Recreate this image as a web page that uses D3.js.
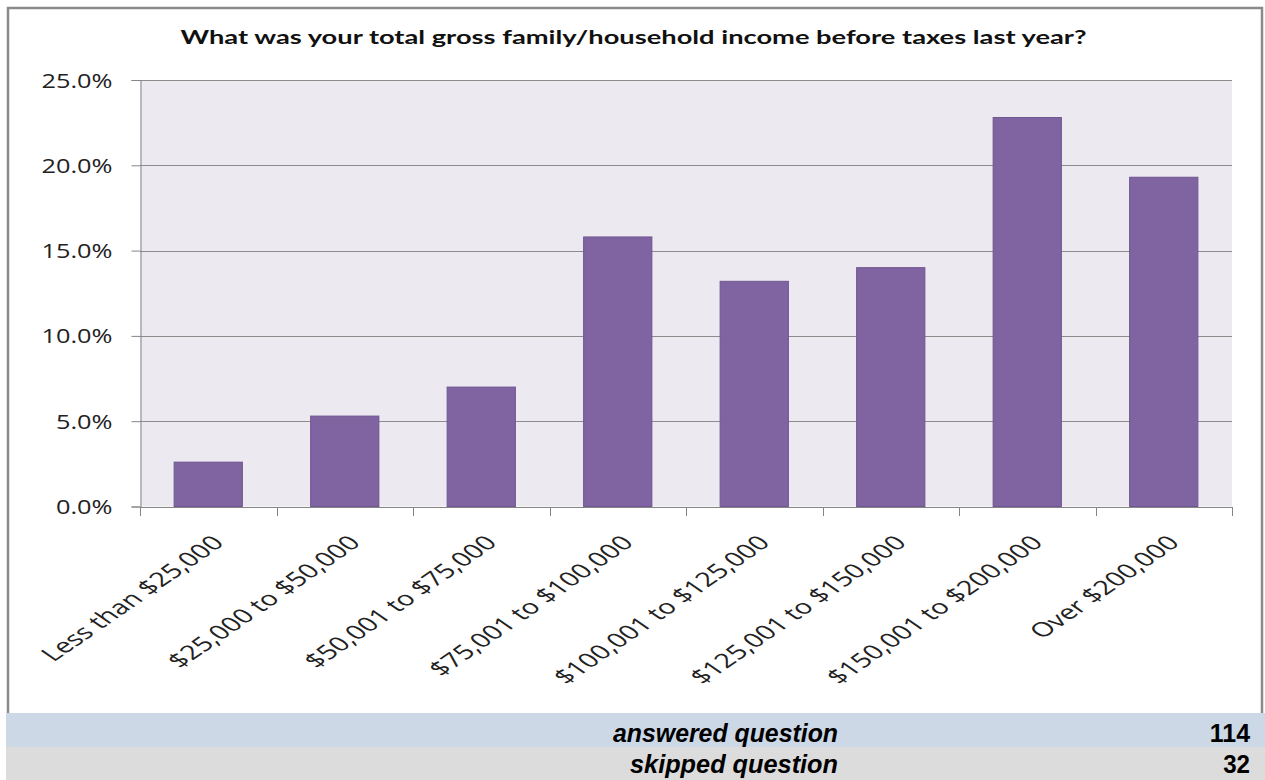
<!DOCTYPE html>
<html>
<head>
<meta charset="utf-8">
<script src="https://cdn.jsdelivr.net/npm/d3@7"></script>
<style>
  html, body { margin: 0; padding: 0; background: #ffffff; }
  svg { display: block; }
</style>
</head>
<body>
<svg id="chart" width="1265" height="780"></svg>
<script>
// Survey results: household income brackets, share of respondents (%)
const categories = [
  "Less than $25,000",
  "$25,000 to $50,000",
  "$50,001 to $75,000",
  "$75,001 to $100,000",
  "$100,001 to $125,000",
  "$125,001 to $150,000",
  "$150,001 to $200,000",
  "Over $200,000"
];
const percentages = [2.6, 5.3, 7.0, 15.8, 13.2, 14.0, 22.8, 19.3];
const yTicks = [0, 5, 10, 15, 20, 25];
const titleText = "What was your total gross family/household income before taxes last year?";
const summaryLabels = ["answered question", "skipped question"];
const summaryCounts = [114, 32];

const W = 1265, H = 780;
const plot = { left: 140, right: 1232, top: 80, bottom: 506.5 };
const SX_Y = 1.3;    // horizontal stretch of value labels
const SX_CAT = 1.45; // horizontal stretch of slanted category labels
const chartFont = "'Open Sans', 'Noto Sans', sans-serif";

const svg = d3.select("#chart");

// chart frame
svg.append("rect")
  .attr("x", 8).attr("y", 8)
  .attr("width", 1254).attr("height", 730)
  .attr("fill", "#ffffff")
  .attr("stroke", "#8a8a8a")
  .attr("stroke-width", 2.5);

const x = d3.scaleBand()
  .domain(categories)
  .range([plot.left, plot.right])
  .paddingInner(0.5)
  .paddingOuter(0.25);

const y = d3.scaleLinear()
  .domain([0, 25])
  .range([plot.bottom, plot.top]);

// plot background
svg.append("rect")
  .attr("x", plot.left).attr("y", plot.top)
  .attr("width", plot.right - plot.left)
  .attr("height", plot.bottom - plot.top)
  .attr("fill", "#ECEAF0");

// horizontal gridlines
svg.append("g")
  .selectAll("line")
  .data(yTicks.filter(d => d > 0))
  .join("line")
  .attr("x1", plot.left).attr("x2", plot.right)
  .attr("y1", d => Math.round(y(d)) + 0.5)
  .attr("y2", d => Math.round(y(d)) + 0.5)
  .attr("stroke", "#8c8c8c")
  .attr("stroke-width", 1);

// bars
svg.append("g")
  .selectAll("rect")
  .data(percentages)
  .join("rect")
  .attr("x", (d, i) => x(categories[i]))
  .attr("y", d => y(d))
  .attr("width", x.bandwidth())
  .attr("height", d => y(0) - y(d))
  .attr("fill", "#8064A2")
  .attr("stroke", "#6F5690")
  .attr("stroke-width", 1);

// y axis
const yAxis = d3.axisLeft(y)
  .tickValues(yTicks)
  .tickSize(9)
  .tickFormat(d => d3.format(".1f")(d) + "%");
const gy = svg.append("g")
  .attr("transform", `translate(${plot.left + 0.5},0)`)
  .call(yAxis);
gy.select(".domain").attr("stroke", "#868686");
gy.selectAll(".tick line").attr("stroke", "#868686");
gy.selectAll(".tick text")
  .attr("x", null).attr("dy", null)
  .attr("text-anchor", "end")
  .attr("font-family", chartFont)
  .attr("font-size", 19.5)
  .attr("fill", "#222")
  .attr("transform", `translate(-28,7) scale(${SX_Y},1)`);

// x axis: ticks on category boundaries
const step = x.step();
const boundaries = d3.range(categories.length + 1).map(i => plot.left + i * step);
const gx = svg.append("g");
gx.append("line")
  .attr("x1", plot.left).attr("x2", plot.right)
  .attr("y1", Math.round(plot.bottom) + 0.5).attr("y2", Math.round(plot.bottom) + 0.5)
  .attr("stroke", "#868686");
gx.selectAll("line.tk")
  .data(boundaries)
  .join("line")
  .attr("class", "tk")
  .attr("x1", d => Math.round(d) + 0.5).attr("x2", d => Math.round(d) + 0.5)
  .attr("y1", Math.round(plot.bottom)).attr("y2", Math.round(plot.bottom) + 9)
  .attr("stroke", "#868686");

// slanted category labels
svg.append("g")
  .selectAll("text")
  .data(categories)
  .join("text")
  .attr("transform", d => `translate(${x(d) + x.bandwidth() / 2 + 17},544) scale(${SX_CAT},1) rotate(-45)`)
  .attr("text-anchor", "end")
  .attr("font-family", chartFont)
  .attr("font-size", 20)
  .attr("fill", "#222")
  .text(d => d);

// title, fitted across the frame
const title = svg.append("text")
  .attr("font-family", "Lato, 'Open Sans', sans-serif")
  .attr("font-weight", 700)
  .attr("font-size", 18.5)
  .attr("fill", "#111")
  .attr("text-anchor", "middle")
  .text(titleText);
const titleW = title.node().getComputedTextLength();
title.attr("transform", `translate(633.5,44) scale(${907 / titleW},1)`);

// summary table below the chart
const rowTop = [713, 747];
const rowH = [34, 33];
const rowBase = [742, 773];
const rowFill = ["#CCD8E6", "#DCDCDC"];
const tableFont = "'Liberation Sans', Arial, sans-serif";
const rows = svg.append("g")
  .selectAll("g")
  .data(summaryLabels)
  .join("g");
rows.append("rect")
  .attr("x", 6)
  .attr("y", (d, i) => rowTop[i])
  .attr("width", W - 6)
  .attr("height", (d, i) => rowH[i])
  .attr("fill", (d, i) => rowFill[i]);
rows.append("text")
  .attr("x", 838)
  .attr("y", (d, i) => rowBase[i])
  .attr("text-anchor", "end")
  .attr("font-family", tableFont)
  .attr("font-style", "italic")
  .attr("font-weight", 700)
  .attr("font-size", 26)
  .attr("fill", "#000")
  .attr("textLength", d => d === "answered question" ? 225 : 208)
  .attr("lengthAdjust", "spacingAndGlyphs")
  .text(d => d);
rows.append("text")
  .attr("x", 1250)
  .attr("y", (d, i) => rowBase[i])
  .attr("text-anchor", "end")
  .attr("font-family", tableFont)
  .attr("font-weight", 700)
  .attr("font-size", 26)
  .attr("fill", "#000")
  .attr("textLength", (d, i) => String(summaryCounts[i]).length * 13.4)
  .attr("lengthAdjust", "spacingAndGlyphs")
  .text((d, i) => summaryCounts[i]);
</script>
</body>
</html>
